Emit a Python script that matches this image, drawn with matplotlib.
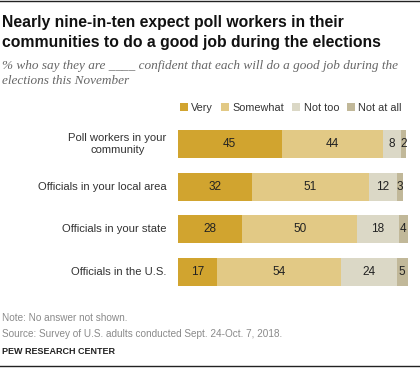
import matplotlib.pyplot as plt
from matplotlib.lines import Line2D
import numpy as np

# data
categories = ['Poll workers in your\ncommunity', 'Officials in your local area',
              'Officials in your state', 'Officials in the U.S.']
very = [45, 32, 28, 17]
somewhat = [44, 51, 50, 54]
not_too = [8, 12, 18, 24]
not_at_all = [2, 3, 4, 5]
series_names = ['Very', 'Somewhat', 'Not too', 'Not at all']
colors = ['#D1A42F', '#E2C985', '#DBD8C6', '#C1B899']

fig = plt.figure(figsize=(4.2, 3.74), dpi=100)
W, H = 420, 374

# bars area in pixel coords
ax = fig.add_axes([178/W, 1-293/H, 230/W, (293-122.75)/H])
y = np.arange(len(categories))
left = np.zeros(len(categories))
bars = []
for vals, col, name in zip([very, somewhat, not_too, not_at_all], colors, series_names):
    vals = np.array(vals)
    b = ax.barh(y, vals, left=left, height=0.66, color=col, label=name, linewidth=0)
    bars.append(b)
    for yi, (l, v) in enumerate(zip(left, vals)):
        ax.text(l + v/2, yi, str(v), ha='center', va='center', fontsize=8.5,
                color='#222222', family='Liberation Sans')
    left = left + vals

ax.set_xlim(0, 100)
ax.set_ylim(3.5, -0.5)
ax.axis('off')
for yi, c in enumerate(categories):
    ax.text(-4.9, yi, c, ha='right', va='center', fontsize=8.1, color='#333333',
            family='Liberation Sans', linespacing=1.25, multialignment='center')

# legend
leg = fig.legend(handles=bars, labels=series_names, ncol=4, loc='center right',
                 bbox_to_anchor=(402/W, 1-108/H), frameon=False,
                 handlelength=0.75, handleheight=0.75, handletextpad=0.3,
                 columnspacing=0.75, borderaxespad=0, borderpad=0,
                 prop={'family': 'Liberation Sans', 'size': 7.8})
for t in leg.get_texts():
    t.set_color('#333333')

# titles
fig.text(2/W, 1-23/H, 'Nearly nine-in-ten expect poll workers in their',
         fontsize=11.3, fontweight='bold', family='Liberation Sans', va='center', color='#111111')
fig.text(2/W, 1-43/H, 'communities to do a good job during the elections',
         fontsize=11.3, fontweight='bold', family='Liberation Sans', va='center', color='#111111')
fig.text(2/W, 1-66/H, '% who say they are ____ confident that each will do a good job during the',
         fontsize=9.5, style='italic', family='Liberation Serif', va='center', color='#666666')
fig.text(2/W, 1-81/H, 'elections this November',
         fontsize=9.5, style='italic', family='Liberation Serif', va='center', color='#666666')

# notes
fig.text(2/W, 1-318/H, 'Note: No answer not shown.', fontsize=7.2,
         family='Liberation Sans', va='center', color='#8a8a8a')
fig.text(2/W, 1-334/H, 'Source: Survey of U.S. adults conducted Sept. 24-Oct. 7, 2018.', fontsize=7.2,
         family='Liberation Sans', va='center', color='#8a8a8a')
fig.text(2/W, 1-352/H, 'PEW RESEARCH CENTER', fontsize=6.5, fontweight='bold',
         family='Liberation Sans', va='center', color='#222222')

# rules top and bottom
fig.add_artist(Line2D([0, 1], [1-1/H, 1-1/H], color='#222222', linewidth=1.0))
fig.add_artist(Line2D([0, 1], [1-366/H, 1-366/H], color='#222222', linewidth=1.0))

fig.savefig('out.png', dpi=100)
